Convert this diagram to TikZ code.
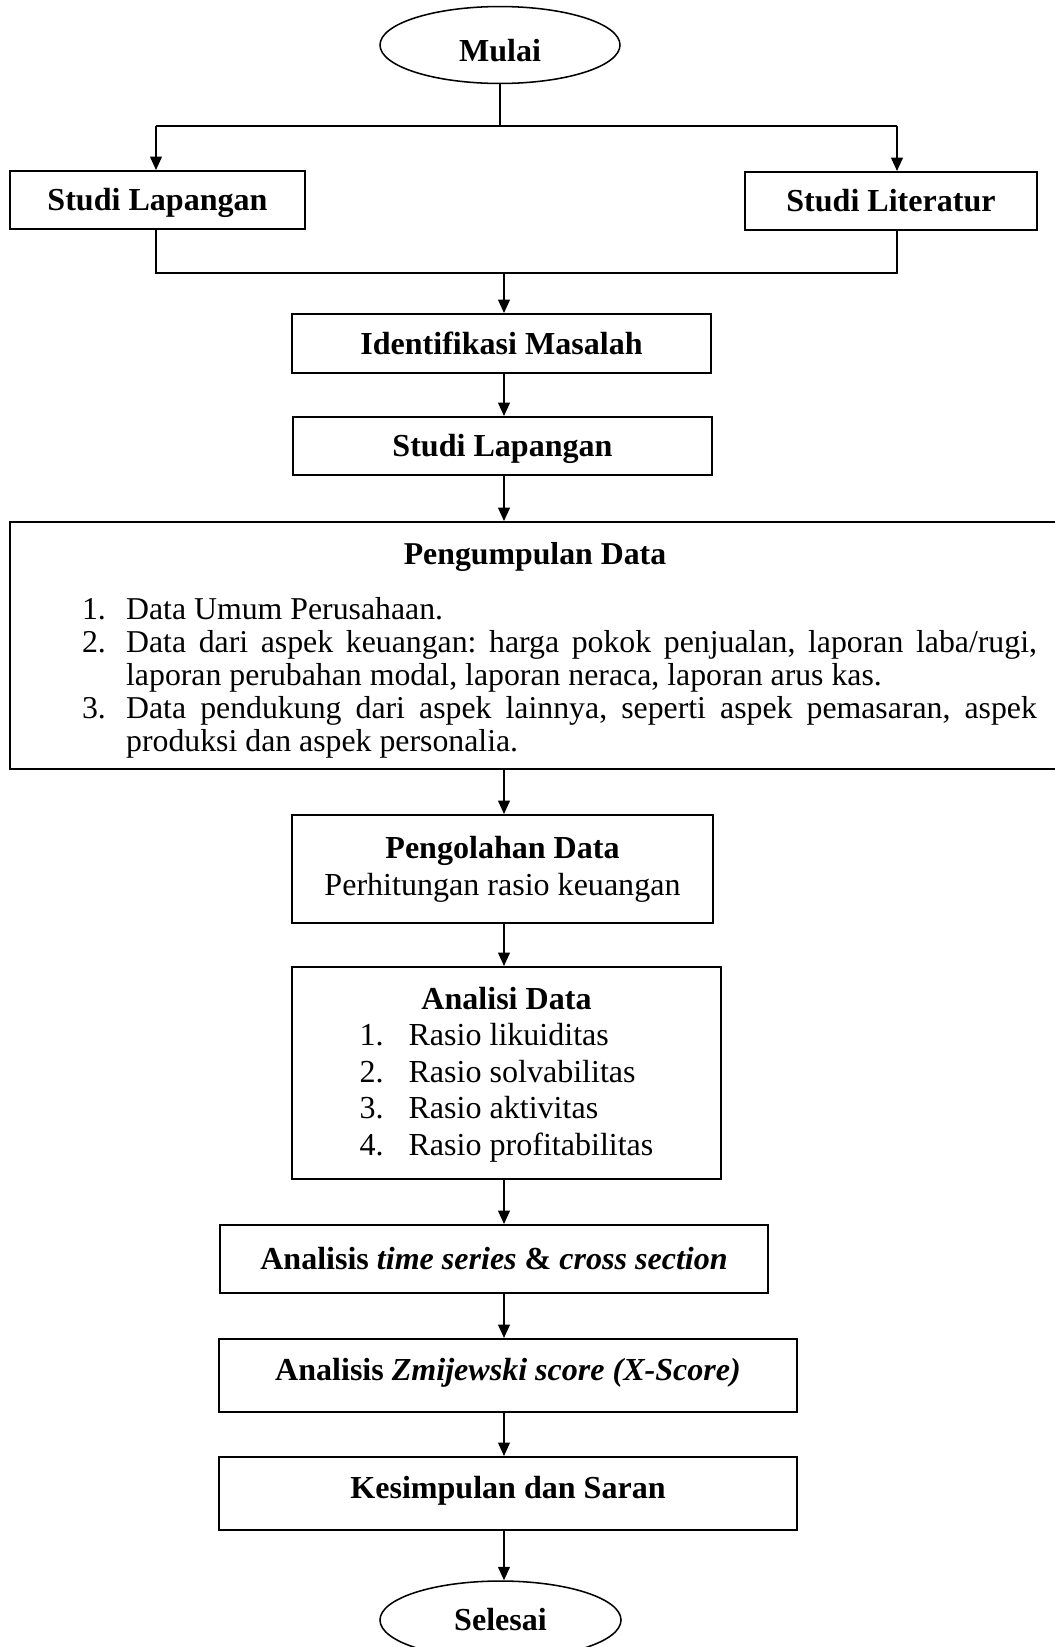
\documentclass[tikz,border=0pt]{standalone}
\usepackage{fontspec}
\setmainfont{Liberation Serif}
\usepackage{tikz}
\usetikzlibrary{shapes.geometric,arrows.meta,positioning,calc}

% one list item with hanging number
\newcommand{\kitem}[2]{\par\hangindent=17.2pt\hangafter=1\noindent\makebox[17.2pt][l]{#1}#2\par}

\begin{document}
\frenchspacing
\begin{tikzpicture}[
    x=0.39pt, y=-0.39pt,
    multibox/.style={rectangle, draw, line width=0.8pt, inner sep=0pt, align=center, font=\fontsize{12.5}{14.3}\selectfont},
    box/.style={multibox, text height=8.6pt, text depth=0.3pt, font=\fontsize{12.5}{14.3}\selectfont\bfseries},
    terminal/.style={ellipse, draw, line width=0.6pt, inner sep=0pt, minimum width=93.6pt, minimum height=30pt, font=\fontsize{12.5}{14.3}\selectfont\bfseries},
    line/.style={draw, line width=0.6pt},
    arrow/.style={draw, line width=0.6pt, -{Triangle[length=5.2pt,width=4.6pt]}}
]
\useasboundingbox (0,0) rectangle (1055,1647);

\coordinate (poros) at (504,0);
\coordinate (cabangkiri) at (156,126);
\coordinate (cabangkanan) at (897,126);
\coordinate (gabungkiri) at (156,273);
\coordinate (gabungkanan) at (897,273);

\node [terminal, text height=12.6pt, text depth=0pt] (mulai) at (500,45) {Mulai};
\node [box, minimum width=115pt, minimum height=22.6pt] (lap1) at (157.5,200) {Studi Lapangan};
\node [box, minimum width=113.9pt, minimum height=22.6pt] (lit) at (891,201) {Studi Literatur};
\node [box, minimum width=163.4pt, minimum height=23pt] (ident) at (501.5,343.5) {Identifikasi Masalah};
\node [box, minimum width=163.4pt, minimum height=22.6pt] (lap2) at (502.5,446) {Studi Lapangan};

\node [multibox, minimum width=409.5pt, minimum height=96.3pt, align=none,
       font=\fontsize{12.4}{12.9}\selectfont] (kumpul) at (535,645.5) {%
  \raisebox{-2pt}[\height][\depth]{\parbox{409.5pt}{%
  \parindent=0pt
  {\centering\bfseries Pengumpulan Data\par}
  \vspace{8.4pt}
  \leftskip=28.1pt \rightskip=9pt
  \kitem{1.}{Data Umum Perusahaan.}
  \kitem{2.}{Data dari aspek keuangan: harga pokok penjualan, laporan laba/rugi,\linebreak
    laporan perubahan modal, laporan neraca, laporan arus kas.}
  \kitem{3.}{Data pendukung dari aspek lainnya, seperti aspek pemasaran, aspek\linebreak
    produksi dan aspek personalia.}}}};

\node [multibox, minimum width=164.2pt, minimum height=42.1pt, font=\fontsize{12.5}{14.4}\selectfont] (olah) at (502.5,869)
  {\textbf{Pengolahan Data}\\Perhitungan rasio keuangan};

\node [multibox, minimum width=167.3pt, minimum height=82.7pt] (analisi) at (506.5,1073)
  {\rule{0pt}{11.6pt}\textbf{Analisi Data}\\[3pt]
   \begin{tabular}{@{}p{19.1pt}@{}l@{}}
   1. & Rasio likuiditas\\
   2. & Rasio solvabilitas\\
   3. & Rasio aktivitas\\
   4. & Rasio profitabilitas
   \end{tabular}};

\node [box, minimum width=213.7pt, minimum height=26.5pt] (series) at (494,1259)
  {Analisis \textit{time series} \& \textit{cross section}};
\node [box, text depth=5.1pt, minimum width=225.4pt, minimum height=28.5pt] (zmij) at (508,1375.5)
  {Analisis \textit{Zmijewski score (X-Score)}};
\node [box, text depth=5.1pt, minimum width=225.4pt, minimum height=28.5pt] (simpul) at (508,1493.5)
  {Kesimpulan dan Saran};
\node [terminal, minimum width=94pt, minimum height=30.4pt] (selesai) at (500.5,1620) {Selesai};

% percabangan ke dua studi
\draw [line] (mulai.south) -- (mulai.south |- cabangkiri);
\draw [line] (cabangkiri) -- (cabangkanan);
\draw [arrow] (cabangkiri) -- (cabangkiri |- lap1.north);
\draw [arrow] (cabangkanan) -- (cabangkanan |- lit.north);

% penggabungan
\draw [line] (lap1.south -| gabungkiri) -- (gabungkiri) -- (gabungkanan) -- (lit.south -| gabungkanan);
\draw [arrow] (gabungkiri -| poros) -- (ident.north -| poros);

\foreach \a/\b in {ident/lap2, lap2/kumpul, kumpul/olah, olah/analisi, analisi/series, series/zmij, zmij/simpul, simpul/selesai}
  \draw [arrow] (\a.south -| poros) -- (\b.north -| poros);

\end{tikzpicture}
\end{document}
